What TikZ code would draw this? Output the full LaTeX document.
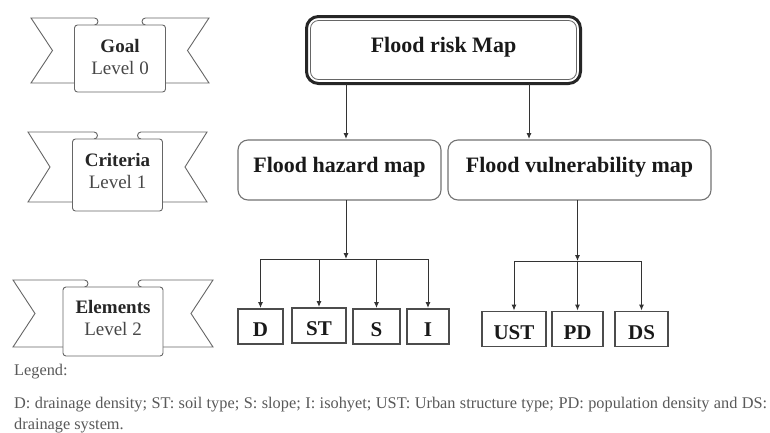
\documentclass[tikz,border=0pt]{standalone}
\usepackage{fontspec}
\setmainfont{Liberation Serif}
\usetikzlibrary{arrows.meta,calc}
% #1 cx, #2 top y, #3 panel half width, #4 tail half extent, #5 notch depth, #6 roll offset, #7 tail height
\newcommand\ribbonshape[7]{%
  \draw[rib] ({#1-#3},{#2+#7}) -- ({#1-#4},{#2+#7}) -- ({#1-#4+#5},{#2+#7/2}) -- ({#1-#4},{#2}) -- ({#1-#6-3.5},{#2}) arc[start angle=-90,end angle=90,radius=3.5];
  \draw[rib] ({#1+#3},{#2+#7}) -- ({#1+#4},{#2+#7}) -- ({#1+#4-#5},{#2+#7/2}) -- ({#1+#4},{#2}) -- ({#1+#6+3.5},{#2}) arc[start angle=-90,end angle=-270,radius=3.5];
  \draw[rib,fill=white,rounded corners=3pt] ({#1-#3},{#2+7}) rectangle ({#1+#3},{#2+#7+9});
}
\begin{document}
\begin{tikzpicture}[x=1pt,y=-1pt,
  rib/.style={draw=black!60, line width=0.9pt},
  ribbold/.style={font=\fontsize{19}{22}\selectfont\bfseries, text=black!85, inner sep=0pt, anchor=base},
  riblevel/.style={font=\fontsize{19}{22}\selectfont, text=black!72, inner sep=0pt, anchor=base},
  bigbox/.style={draw=black!55, line width=1.1pt, rounded corners=10pt, font=\fontsize{22}{26}\selectfont\bfseries, text=black!90, text height=15pt, text depth=11pt, inner sep=0pt, outer sep=0pt},
  elbox/.style={draw=black!70, line width=1.2pt, font=\fontsize{21}{24}\selectfont\bfseries, text=black!90, text height=20pt, text depth=0pt, inner sep=0pt, outer sep=0pt, minimum height=35pt},
  arr/.style={draw=black!80, line width=1pt, -{Latex[length=6pt,width=5pt]}, shorten >=1pt},
  ln/.style={draw=black!80, line width=1pt},
  legend/.style={font=\fontsize{16.3}{21}\selectfont, text=black!65, inner sep=0pt}]

\fill[white] (0,0) rectangle (770,432);
\useasboundingbox (0,0) rectangle (770,432);

% ribbons
\ribbonshape{120}{18}{45.5}{89}{21.5}{22}{65}
\node[ribbold] (goal) at (120,52) {Goal};
\node[riblevel] (lev0) at (120,74) {Level 0};

\ribbonshape{117.5}{132}{45}{89.5}{22}{20}{70}
\node[ribbold] (crit) at (117.5,166) {Criteria};
\node[riblevel] (lev1) at (117.5,188) {Level 1};

\ribbonshape{113}{280}{50}{100}{22}{25}{67}
\node[ribbold] (elem) at (113,313) {Elements};
\node[riblevel] (lev2) at (113,335) {Level 2};

% top box
\node[bigbox, draw=black!85, line width=3pt, rounded corners=12pt, minimum width=274pt, minimum height=67pt] (risk) at (443.5,50) {Flood risk Map};
\draw[draw=black!60, line width=0.8pt, rounded corners=8pt] ($(risk.south west)+(4pt,4pt)$) rectangle ($(risk.north east)+(-4pt,-4pt)$);

% criteria boxes
\node[bigbox, minimum width=203pt, minimum height=60pt] (hazard) at (339.5,170) {Flood hazard map};
\node[bigbox, minimum width=263pt, minimum height=60pt] (vuln) at (579.5,170) {Flood vulnerability map};

% element boxes
\node[elbox, minimum width=45pt] (D) at (260.5,326.5) {D};
\node[elbox, minimum width=54pt] (ST) at (319,325.5) {ST};
\node[elbox, minimum width=47pt] (S) at (376.5,326.5) {S};
\node[elbox, minimum width=42pt] (I) at (428,326.5) {I};
\node[elbox, minimum width=64pt] (UST) at (514,329) {UST};
\node[elbox, minimum width=51pt] (PD) at (577.5,329) {PD};
\node[elbox, minimum width=53pt] (DS) at (641.5,329) {DS};

% connectors
\coordinate (a1) at (346,0);
\coordinate (a2) at (529,0);
\draw[arr] (risk.south -| a1) -- (hazard.north -| a1);
\draw[arr] (risk.south -| a2) -- (vuln.north -| a2);

\coordinate (hj) at (346,259);
\draw[arr, shorten >=0pt] (hazard.south -| hj) -- (hj);
\draw[ln] (D.north |- hj) -- (I.north |- hj);
\foreach \n in {D,ST,S,I} \draw[arr] (\n.north |- hj) -- (\n.north);

\coordinate (vj) at (577.5,261);
\draw[arr, shorten >=0pt] (vuln.south -| vj) -- (vj);
\draw[ln] (UST.north |- vj) -- (DS.north |- vj);
\foreach \n in {UST,PD,DS} \draw[arr] (\n.north |- vj) -- (\n.north);

% legend
\node[legend, anchor=base west] (leg) at (14,375.5) {Legend:};
\node[legend, anchor=base west, text width=753pt, align=justify] (legtext) at (14,408) {D: drainage density; ST: soil type; S: slope; I: isohyet; UST: Urban structure type; PD: population density and DS:\linebreak drainage system.};
\end{tikzpicture}
\end{document}
